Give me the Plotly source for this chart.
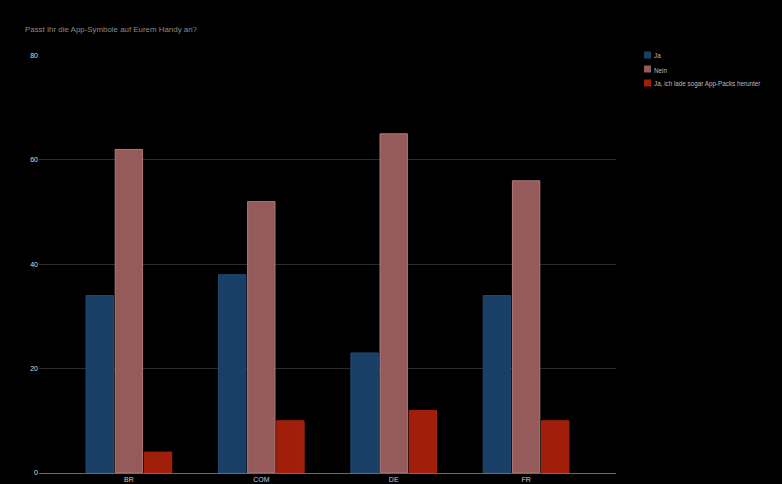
import plotly.graph_objects as go

sites = ['BR', 'COM', 'DE', 'FR']
ja = [34, 38, 23, 34]
nein = [62, 52, 65, 56]
packs = [4, 10, 12, 10]

series = [
    ('Ja', ja, '#1A3F66', '#1F4A75'),
    ('Nein', nein, '#955B5B', '#B07A7A'),
    ('Ja, ich lade sogar App-Packs herunter', packs, '#A01E0A', '#A8260F'),
]

fig = go.Figure()
for name, vals, col, edge in series:
    fig.add_trace(go.Bar(x=sites, y=vals, name=name,
                         marker=dict(color=col, line=dict(color=edge, width=1))))

# the original legend has tiny swatches sitting right next to the text
for i, (name, vals, col, edge) in enumerate(series):
    ypos = 55 + i * 14
    fig.add_shape(type='rect', xref='paper', yref='paper',
                  x0=(644 - 39) / 577, x1=(651 - 39) / 577,
                  y0=(473 - ypos - 3.5) / 418, y1=(473 - ypos + 3.5) / 418,
                  fillcolor=col, line_width=0)
    fig.add_annotation(text=name, xref='paper', yref='paper', showarrow=False,
                       x=(652 - 39) / 577, y=(472 - ypos) / 418, xanchor='left', yanchor='middle',
                       font=dict(size=6.3, color='#BBBBBB'))

fig.update_layout(
    width=782,
    height=484,
    margin=dict(l=39, r=166, t=55, b=11, autoexpand=False),
    paper_bgcolor='#000000',
    plot_bgcolor='#000000',
    showlegend=False,
    font=dict(family='Liberation Sans', size=7, color='#DDDDDD'),
    title=dict(text='Passt Ihr die App-Symbole auf Eurem Handy an?',
               x=25/782, xanchor='left', y=1-29/484, yanchor='middle',
               font=dict(size=7.9, color='#8A8A8A')),
    barmode='group',
    bargap=0.34,
    bargroupgap=0.06,
    xaxis=dict(range=[-0.679, 3.679], showgrid=False, showline=True, linecolor='#6A6A6A',
               linewidth=1, ticks='', automargin=False, tickfont=dict(size=7, color='#CCCCCC')),
    yaxis=dict(range=[0, 80.1], dtick=20, gridcolor='#2B2B2B', gridwidth=1, zeroline=False,
               ticks='', automargin=False, tickfont=dict(size=7, color='#DDDDDD')),
)

fig.write_html("out.html", config={'displayModeBar': False},
               post_script="document.body.style.margin='0';")
